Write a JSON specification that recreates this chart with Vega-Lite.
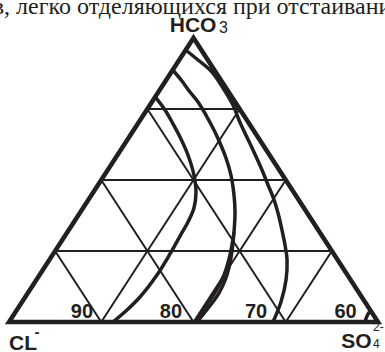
{
  "$schema": "https://vega.github.io/schema/vega-lite/v6.json",
  "width": 369,
  "height": 284,
  "autosize": {"type": "none"},
  "padding": {"left": 9, "top": 38, "right": 7, "bottom": 30},
  "background": "white",
  "config": {"view": {"stroke": null}},
  "datasets": {
    "outline": [
      {"i": 0, "cl": 100, "hco3": 0},
      {"i": 1, "cl": 80, "hco3": 40},
      {"i": 2, "cl": 60, "hco3": 0},
      {"i": 3, "cl": 100, "hco3": 0},
      {"i": 4, "cl": 80, "hco3": 40}
    ],
    "grid": [
      {"cl": 90, "hco3": 0, "cl2": 75, "hco32": 30},
      {"cl": 80, "hco3": 0, "cl2": 70, "hco32": 20},
      {"cl": 70, "hco3": 0, "cl2": 65, "hco32": 10},
      {"cl": 90, "hco3": 0, "cl2": 95, "hco32": 10},
      {"cl": 80, "hco3": 0, "cl2": 90, "hco32": 20},
      {"cl": 70, "hco3": 0, "cl2": 85, "hco32": 30},
      {"cl": 95, "hco3": 10, "cl2": 65, "hco32": 10},
      {"cl": 90, "hco3": 20, "cl2": 70, "hco32": 20},
      {"cl": 85, "hco3": 30, "cl2": 75, "hco32": 30}
    ],
    "curves": [
      {"c": "a", "i": 0, "cl": 84.15, "hco3": 31.7},
      {"c": "a", "i": 1, "cl": 83.09, "hco3": 29.86},
      {"c": "a", "i": 2, "cl": 82.33, "hco3": 28.17},
      {"c": "a", "i": 3, "cl": 81.46, "hco3": 26.06},
      {"c": "a", "i": 4, "cl": 80.6, "hco3": 23.52},
      {"c": "a", "i": 5, "cl": 79.95, "hco3": 20.7},
      {"c": "a", "i": 6, "cl": 79.73, "hco3": 18.31},
      {"c": "a", "i": 7, "cl": 79.95, "hco3": 16.06},
      {"c": "a", "i": 8, "cl": 80.6, "hco3": 14.08},
      {"c": "a", "i": 9, "cl": 81.46, "hco3": 12.11},
      {"c": "a", "i": 10, "cl": 82.55, "hco3": 9.58},
      {"c": "a", "i": 11, "cl": 83.96, "hco3": 6.62},
      {"c": "a", "i": 12, "cl": 85.8, "hco3": 3.52},
      {"c": "a", "i": 13, "cl": 87.21, "hco3": 1.69},
      {"c": "a", "i": 14, "cl": 88.73, "hco3": 0},

      {"c": "b", "i": 0, "cl": 82.25, "hco3": 35.49},
      {"c": "b", "i": 1, "cl": 81.25, "hco3": 33.94},
      {"c": "b", "i": 2, "cl": 80.38, "hco3": 32.39},
      {"c": "b", "i": 3, "cl": 79.51, "hco3": 30.99},
      {"c": "b", "i": 4, "cl": 78.65, "hco3": 29.15},
      {"c": "b", "i": 5, "cl": 77.78, "hco3": 27.04},
      {"c": "b", "i": 6, "cl": 77.13, "hco3": 25.21},
      {"c": "b", "i": 7, "cl": 76.48, "hco3": 23.1},
      {"c": "b", "i": 8, "cl": 75.94, "hco3": 20.7},
      {"c": "b", "i": 9, "cl": 75.61, "hco3": 17.89},
      {"c": "b", "i": 10, "cl": 75.5, "hco3": 15.49},
      {"c": "b", "i": 11, "cl": 75.61, "hco3": 12.68},
      {"c": "b", "i": 12, "cl": 75.94, "hco3": 9.01},
      {"c": "b", "i": 13, "cl": 76.48, "hco3": 6.2},
      {"c": "b", "i": 14, "cl": 77.24, "hco3": 4.08},
      {"c": "b", "i": 15, "cl": 78.32, "hco3": 2.11},
      {"c": "b", "i": 16, "cl": 79.62, "hco3": 0},

      {"c": "b2", "i": 0, "cl": 75.61, "hco3": 12.68},
      {"c": "b2", "i": 1, "cl": 76.04, "hco3": 9.44},
      {"c": "b2", "i": 2, "cl": 76.69, "hco3": 6.62},
      {"c": "b2", "i": 3, "cl": 77.56, "hco3": 4.37},
      {"c": "b2", "i": 4, "cl": 78.65, "hco3": 2.25},
      {"c": "b2", "i": 5, "cl": 79.73, "hco3": 0},

      {"c": "c", "i": 0, "cl": 80.85, "hco3": 38.31},
      {"c": "c", "i": 1, "cl": 79.51, "hco3": 36.9},
      {"c": "c", "i": 2, "cl": 78.0, "hco3": 35.21},
      {"c": "c", "i": 3, "cl": 76.8, "hco3": 32.96},
      {"c": "c", "i": 4, "cl": 75.72, "hco3": 30.56},
      {"c": "c", "i": 5, "cl": 75.07, "hco3": 28.45},
      {"c": "c", "i": 6, "cl": 74.58, "hco3": 27.04},
      {"c": "c", "i": 7, "cl": 73.55, "hco3": 24.23},
      {"c": "c", "i": 8, "cl": 72.57, "hco3": 21.41},
      {"c": "c", "i": 9, "cl": 71.92, "hco3": 19.3},
      {"c": "c", "i": 10, "cl": 71.38, "hco3": 17.61},
      {"c": "c", "i": 11, "cl": 70.84, "hco3": 15.35},
      {"c": "c", "i": 12, "cl": 70.41, "hco3": 12.96},
      {"c": "c", "i": 13, "cl": 70.08, "hco3": 10.85},
      {"c": "c", "i": 14, "cl": 69.86, "hco3": 8.73},
      {"c": "c", "i": 15, "cl": 69.97, "hco3": 5.92},
      {"c": "c", "i": 16, "cl": 70.52, "hco3": 2.82},
      {"c": "c", "i": 17, "cl": 71.38, "hco3": 0},

      {"c": "d", "i": 0, "cl": 61.41, "hco3": 0},
      {"c": "d", "i": 1, "cl": 61.19, "hco3": 0.85},
      {"c": "d", "i": 2, "cl": 60.87, "hco3": 1.55}
    ],
    "ticks": [
      {"t": "90", "cl": 92.1, "hco3": 0.56},
      {"t": "80", "cl": 82.44, "hco3": 0.56},
      {"t": "70", "cl": 73.22, "hco3": 0.56},
      {"t": "60", "cl": 63.52, "hco3": 0.56}
    ],
    "ions": [
      {"t": "HCO", "cl": 80.05, "hco3": 40.85},
      {"t": "CL", "cl": 98.48, "hco3": -3.94},
      {"t": "SO", "cl": 62.33, "hco3": -3.66}
    ],
    "hco3Index": [
      {"t": "3", "cl": 77.24, "hco3": 40.7}
    ],
    "so4Indices": [
      {"t": "4", "cl": 60.54, "hco3": -3.66},
      {"t": "2-", "cl": 60.54, "hco3": -1.27}
    ],
    "charges": [
      {"t": "-", "cl": 77.02, "hco3": 42.96},
      {"t": "-", "cl": 97.24, "hco3": -2.11}
    ],
    "caption": [
      {"t": "в, легко отделяющихся при отстаивани", "cl": 80.16, "hco3": 43.31}
    ]
  },
  "encoding": {
    "x": {"field": "cl", "type": "quantitative", "scale": {"domain": [100, 60], "nice": false, "zero": false}, "axis": null},
    "y": {"field": "hco3", "type": "quantitative", "scale": {"domain": [0, 40], "nice": false, "zero": false}, "axis": null}
  },
  "layer": [
    {
      "data": {"name": "grid"},
      "mark": {"type": "rule", "color": "#231f20", "strokeWidth": 2},
      "encoding": {
        "x2": {"field": "cl2"},
        "y2": {"field": "hco32"}
      }
    },
    {
      "data": {"name": "outline"},
      "mark": {"type": "line", "color": "#231f20", "strokeWidth": 4.5, "strokeJoin": "miter"},
      "encoding": {"order": {"field": "i", "type": "quantitative"}}
    },
    {
      "data": {"name": "curves"},
      "mark": {"type": "line", "color": "#231f20", "strokeWidth": 3.5, "interpolate": "catmull-rom"},
      "encoding": {
        "detail": {"field": "c", "type": "nominal"},
        "order": {"field": "i", "type": "quantitative"}
      }
    },
    {
      "data": {"name": "ticks"},
      "mark": {"type": "text", "font": "Liberation Sans", "fontWeight": "bold", "fontSize": 20, "color": "#231f20", "align": "center", "baseline": "alphabetic"},
      "encoding": {"text": {"field": "t"}}
    },
    {
      "data": {"name": "ions"},
      "mark": {"type": "text", "font": "Liberation Sans", "fontWeight": "bold", "fontSize": 21, "color": "#231f20", "align": "center", "baseline": "alphabetic"},
      "encoding": {"text": {"field": "t"}}
    },
    {
      "data": {"name": "hco3Index"},
      "mark": {"type": "text", "font": "Liberation Sans", "fontSize": 16, "color": "#231f20", "align": "left", "baseline": "alphabetic"},
      "encoding": {"text": {"field": "t"}}
    },
    {
      "data": {"name": "so4Indices"},
      "mark": {"type": "text", "font": "Liberation Sans", "fontSize": 12, "color": "#231f20", "align": "left", "baseline": "alphabetic"},
      "encoding": {"text": {"field": "t"}}
    },
    {
      "data": {"name": "charges"},
      "mark": {"type": "text", "font": "Liberation Sans", "fontWeight": "bold", "fontSize": 15, "color": "#231f20", "align": "left", "baseline": "alphabetic"},
      "encoding": {"text": {"field": "t"}}
    },
    {
      "data": {"name": "caption"},
      "mark": {"type": "text", "font": "Liberation Serif", "fontSize": 24, "color": "#231f20", "align": "center", "baseline": "alphabetic"},
      "encoding": {"text": {"field": "t"}}
    }
  ]
}
